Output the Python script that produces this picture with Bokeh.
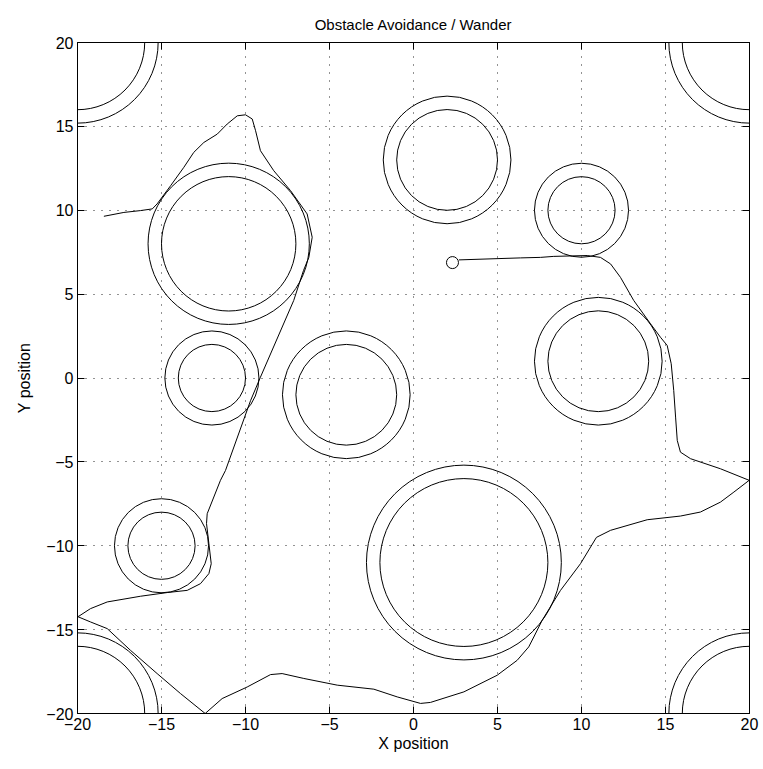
from bokeh.plotting import figure
from bokeh.models import Range1d, LinearAxis, FixedTicker
from bokeh.embed import file_html
from bokeh.resources import INLINE

# Obstacles (centre, radius) and safety-margin radius
obs_x = [-20, 20, -20, 20, 2, 10, -11, -12, -4, 11, -15, 3]
obs_y = [20, 20, -20, -20, 13, 10, 8, 0, -1, 1, -10, -11]
obs_r = [4, 4, 4, 4, 3, 2, 4, 2, 3, 3, 2, 5]
obs_r_outer = [4.8, 4.8, 4.8, 4.8, 3.8, 2.8, 4.8, 2.8, 3.8, 3.8, 2.8, 5.8]

# Robot trajectory
path_x = [-18.43, -17.24, -16.25, -15.55, -15.26, -14.46, -13.67, -13.08, -12.48, -11.68,
          -11.09, -10.49, -10.0, -9.6, -9.4, -9.11, -8.32, -7.32, -6.33, -6.03,
          -6.23, -6.55, -7.13, -9.11, -9.7, -11.19, -11.49, -12.28, -12.32, -12.18,
          -12.04, -12.18, -12.68, -13.47, -14.66, -16.25, -18.23, -19.23, -19.92, -20.0,
          -19.23, -18.23, -16.85, -15.26, -13.87, -12.4, -11.39, -9.9, -8.51, -7.82,
          -6.53, -4.54, -2.36, -0.97, 0.42, 1.01, 3.0, 4.98, 6.17, 6.86,
          7.16, 7.66, 8.75, 9.94, 10.89, 11.73, 13.91, 15.89, 17.08, 18.27,
          19.07, 19.98, 18.27, 16.49, 15.89, 15.7, 15.6, 15.49, 15.34, 15.1,
          14.7, 14.11, 13.11, 12.32, 11.73, 11.13, 10.34, 8.35, 7.56, 6.37,
          2.7]
path_y = [9.64, 9.87, 9.98, 10.08, 10.38, 11.46, 12.56, 13.45, 14.04, 14.54,
          15.14, 15.63, 15.69, 15.44, 14.74, 13.55, 12.36, 11.17, 9.78, 8.39,
          7.19, 6.4, 4.62, 0.05, -1.35, -5.51, -6.1, -8.09, -8.68, -9.87,
          -11.07, -11.66, -12.26, -12.66, -12.79, -13.01, -13.35, -13.75, -14.2, -14.22,
          -14.54, -14.94, -16.23, -17.62, -18.81, -20.0, -19.11, -18.42, -17.68, -17.62,
          -17.91, -18.31, -18.55, -19.01, -19.4, -19.34, -18.71, -17.72, -16.83, -16.03,
          -15.44, -14.44, -12.66, -11.07, -9.5, -9.08, -8.45, -8.23, -7.99, -7.4,
          -6.8, -6.1, -5.41, -4.81, -4.42, -3.72, -2.33, -0.74, 0.85, 1.94,
          2.43, 3.23, 4.62, 6.0, 6.8, 7.19, 7.3, 7.25, 7.19, 7.16,
          7.04]

robot_x = [2.32]
robot_y = [6.88]

ticks = [-20, -15, -10, -5, 0, 5, 10, 15, 20]

FONT = "Liberation Sans"

p = figure(width=763, height=769, output_backend="svg", toolbar_location=None,
           x_range=Range1d(-20, 20), y_range=Range1d(-20, 20),
           min_border_left=77, min_border_right=14, min_border_top=42, min_border_bottom=56,
           title="Obstacle Avoidance / Wander")
p.background_fill_color = "white"
p.border_fill_color = "white"
p.outline_line_color = "black"
p.title.align = "center"
p.title.text_font = FONT
p.title.text_font_size = "15px"
p.title.text_font_style = "normal"
p.title.text_color = "black"
p.title.standoff = 20

for ax in (p.xaxis[0], p.yaxis[0]):
    ax.ticker = FixedTicker(ticks=ticks)
    ax.major_tick_in = 7
    ax.major_tick_out = 0
    ax.minor_tick_line_color = None
    ax.axis_line_color = "black"
    ax.major_tick_line_color = "black"
    ax.major_label_text_font = FONT
    ax.major_label_text_font_size = "16px"
    ax.major_label_text_color = "black"
    ax.axis_label_text_font = FONT
    ax.axis_label_text_font_size = "16px"
    ax.axis_label_text_font_style = "normal"
    ax.axis_label_text_color = "black"
    ax.major_label_standoff = 4

p.xaxis.axis_label = "X position"
p.yaxis.axis_label = "Y position"
p.xaxis.axis_label_standoff = 2
p.yaxis.axis_label_standoff = 10

for loc in ("above", "right"):
    ax = LinearAxis(ticker=FixedTicker(ticks=ticks))
    ax.major_tick_in = 7
    ax.major_tick_out = 0
    ax.minor_tick_line_color = None
    ax.major_label_overrides = {t: "" for t in ticks}
    ax.major_label_standoff = 0
    ax.axis_line_color = "black"
    p.add_layout(ax, loc)

p.grid.ticker = FixedTicker(ticks=ticks)
p.grid.grid_line_color = "black"
p.grid.grid_line_dash = "1 7"
p.grid.grid_line_alpha = 0.85

p.circle(obs_x, obs_y, radius=obs_r, fill_color=None, line_color="black", line_width=1)
p.circle(obs_x, obs_y, radius=obs_r_outer, fill_color=None, line_color="black", line_width=1)
p.line(path_x, path_y, line_color="black", line_width=1)
p.scatter(robot_x, robot_y, marker="circle", size=12, fill_color=None, line_color="black", line_width=1)

open("out.html", "w").write(file_html(p, INLINE))
